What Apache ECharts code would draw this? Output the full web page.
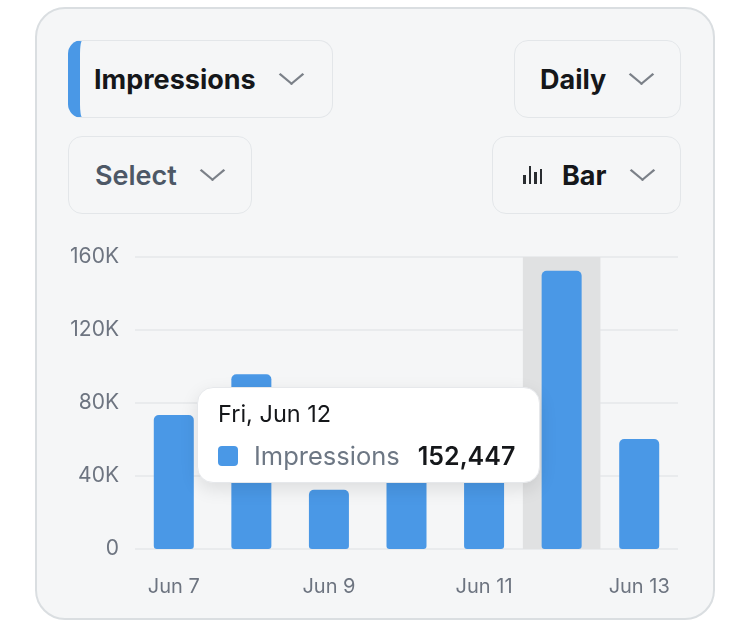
<!DOCTYPE html>
<html lang="en">
<head>
  <meta charset="UTF-8" />
  <title>Impressions - daily bar chart</title>
  <script src="https://cdn.jsdelivr.net/npm/echarts@6.0.0/dist/echarts.min.js"></script>
  <style>
    html, body {
      margin: 0;
      padding: 0;
      background: #ffffff;
      font-family: Inter, "Noto Sans", Arial, sans-serif;
    }
    .card {
      position: absolute;
      left: 35px;
      top: 7px;
      width: 676px;
      height: 609px;
      border: 2px solid #dadee1;
      border-radius: 30px;
      background: #f5f6f7;
    }
    #main {
      position: absolute;
      left: 0;
      top: 0;
      width: 750px;
      height: 642px;
    }
    .dd {
      position: absolute;
      height: 78px;
      box-sizing: border-box;
      border: 1.5px solid #e3e6e9;
      border-radius: 14px;
      background: #f5f6f7;
      display: flex;
      align-items: center;
      font-size: 27px;
      font-weight: 700;
      color: #15171a;
      z-index: 2;
    }
    .dd .chev {
      width: 13px;
      height: 13px;
      border-right: 2px solid #7b8088;
      border-bottom: 2px solid #7b8088;
      transform: scaleX(1.2) rotate(45deg);
      margin-top: -9px;
    }
    .dd.accent {
      border-left: 12px solid #4a98e6;
    }
    .bar-icon {
      display: flex;
      align-items: flex-end;
      height: 18px;
      gap: 3px;
      margin-right: 20px;
    }
    .bar-icon span {
      width: 2.5px;
      background: #2a2d31;
    }
  </style>
</head>
<body>
  <div class="card"></div>
  <div id="main"></div>

  <div class="dd accent" style="left:68px; top:40px; width:265px; padding-left:14px;">
    <span>Impressions</span><span class="chev" style="margin-left:28px;"></span>
  </div>
  <div class="dd" style="left:514px; top:40px; width:167px; padding-left:25px;">
    <span>Daily</span><span class="chev" style="margin-left:28px;"></span>
  </div>
  <div class="dd" style="left:68px; top:136px; width:184px; padding-left:26px; color:#4d5866; font-weight:600;">
    <span>Select</span><span class="chev" style="margin-left:28px;"></span>
  </div>
  <div class="dd" style="left:492px; top:136px; width:189px; padding-left:30px;">
    <span class="bar-icon"><span style="height:9px"></span><span style="height:18px"></span><span style="height:12px"></span><span style="height:15px"></span></span>
    <span>Bar</span><span class="chev" style="margin-left:28px;"></span>
  </div>

  <script>
    const categories = ['Jun 7', 'Jun 8', 'Jun 9', 'Jun 10', 'Jun 11', 'Jun 12', 'Jun 13'];
    const weekdays = ['Sun', 'Mon', 'Tue', 'Wed', 'Thu', 'Fri', 'Sat'];
    const impressions = [73400, 95800, 32400, 61000, 56000, 152447, 60300];
    const yTicks = [0, 40000, 80000, 120000, 160000];
    const seriesName = 'Impressions';
    const highlighted = 5;

    const blue = '#4a98e6';
    const chart = echarts.init(document.getElementById('main'));

    chart.setOption({
      animation: false,
      textStyle: { fontFamily: 'Inter, "Noto Sans", sans-serif' },
      grid: { left: 135, right: 72, top: 257, bottom: 93, containLabel: false },
      tooltip: {
        trigger: 'axis',
        alwaysShowContent: true,
        showDelay: 0,
        transitionDuration: 0,
        axisPointer: { type: 'shadow', z: 0, shadowStyle: { color: '#e0e1e2', opacity: 1 } },
        position: [197, 387],
        backgroundColor: '#ffffff',
        borderColor: '#e6e8eb',
        borderWidth: 1,
        borderRadius: 16,
        padding: [11, 24, 11, 20],
        extraCssText: 'box-shadow: 0 6px 18px rgba(0,0,0,0.10);',
        formatter: params => {
          const p = params[0];
          const day = weekdays[p.dataIndex] + ', ' + p.name;
          return '<div style="font-size:23.5px;color:#15171a;line-height:30px;">' + day + '</div>' +
            '<div style="display:flex;align-items:center;margin-top:12px;line-height:30px;">' +
            '<span style="display:inline-block;width:20px;height:20px;border-radius:4px;background:' + blue + ';margin-right:16px;"></span>' +
            '<span style="font-size:25.5px;color:#6d7784;margin-right:18px;">' + p.seriesName + '</span>' +
            '<span style="font-size:25px;font-weight:600;color:#15171a;">' + p.value.toLocaleString('en-US') + '</span>' +
            '</div>';
        }
      },
      xAxis: {
        type: 'category',
        data: categories,
        axisLine: { show: false },
        axisTick: { show: false },
        axisLabel: { interval: 1, color: '#6d7480', fontSize: 20, margin: 28 }
      },
      yAxis: {
        type: 'value',
        min: yTicks[0],
        max: yTicks[yTicks.length - 1],
        interval: yTicks[1] - yTicks[0],
        axisLine: { show: false },
        axisTick: { show: false },
        splitLine: { lineStyle: { color: '#e4e7ea', width: 1.5 } },
        axisLabel: {
          color: '#6d7480',
          fontSize: 21,
          margin: 16,
          formatter: v => v === 0 ? '0' : (v / 1000) + 'K'
        }
      },
      series: [{
        name: seriesName,
        type: 'bar',
        z: 2,
        data: impressions,
        barWidth: 40,
        emphasis: { disabled: true },
        itemStyle: { color: blue, borderRadius: [5, 5, 3, 3] }
      }]
    });

    chart.dispatchAction({ type: 'showTip', seriesIndex: 0, dataIndex: highlighted });
  </script>
</body>
</html>
